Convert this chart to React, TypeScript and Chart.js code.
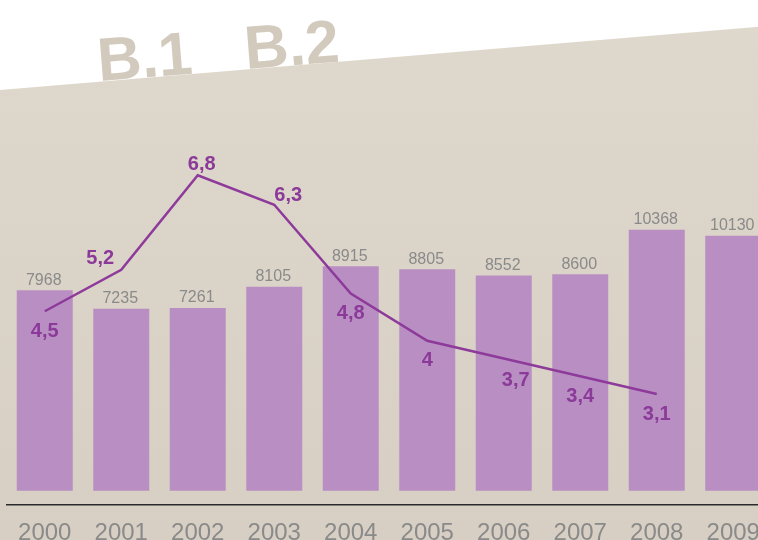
import React, { useEffect, useRef } from "react";
import { Chart, registerables } from "chart.js";

Chart.register(...registerables);

const years = ["2000", "2001", "2002", "2003", "2004", "2005", "2006", "2007", "2008", "2009"];
const barValues = [7968, 7235, 7261, 8105, 8915, 8805, 8552, 8600, 10368, 10130];
const lineValues: (number | null)[] = [4.5, 5.2, 6.8, 6.3, 4.8, 4.0, 3.7, 3.4, 3.1, null];
const headerLabels = ["B.1", "B.2"];

// label placement style per line point
const linePlacement = ["below", "left", "above", "right", "below", "below", "belowRight", "below", "below"];

const FONT = '"Liberation Sans", Arial, Helvetica, sans-serif';
const W = 780;
const H = 562;

const placementOffset: Record<string, [number, number]> = {
  below: [0, 20],
  belowRight: [12, 22],
  above: [4, -11],
  right: [14, -9],
  left: [-21, -11],
};

const bgPlugin = {
  id: "bgPlugin",
  beforeDraw(chart: any) {
    const ctx = chart.ctx as CanvasRenderingContext2D;
    ctx.save();
    const g = ctx.createLinearGradient(0, 0, 0, 540);
    g.addColorStop(0, "#dfd8cd");
    g.addColorStop(1, "#d7cfc3");
    ctx.fillStyle = g;
    ctx.beginPath();
    ctx.moveTo(0, 90);
    ctx.lineTo(W, 90 - 0.0833 * W);
    ctx.lineTo(W, H);
    ctx.lineTo(0, H);
    ctx.closePath();
    ctx.fill();

    ctx.font = `bold 61px ${FONT}`;
    ctx.fillStyle = "#d3cabe";
    ctx.textAlign = "left";
    ctx.textBaseline = "alphabetic";
    const starts: [number, number][] = [
      [99, 81],
      [246, 69],
    ];
    headerLabels.forEach((t, i) => {
      ctx.save();
      ctx.translate(starts[i][0], starts[i][1]);
      ctx.rotate(-0.078);
      ctx.fillText(t, 0, 0);
      ctx.restore();
    });
    ctx.restore();
  },
};

const labelPlugin = {
  id: "labelPlugin",
  afterDatasetsDraw(chart: any) {
    const ctx = chart.ctx as CanvasRenderingContext2D;
    ctx.save();
    // bar values
    const barMeta = chart.getDatasetMeta(1);
    ctx.font = `16px ${FONT}`;
    ctx.fillStyle = "#8a8a8a";
    ctx.textAlign = "center";
    ctx.textBaseline = "alphabetic";
    barMeta.data.forEach((el: any, i: number) => {
      ctx.fillText(String(barValues[i]), el.x - 1, el.y - 5.5);
    });
    // line values
    const lineMeta = chart.getDatasetMeta(0);
    ctx.font = `bold 20px ${FONT}`;
    ctx.fillStyle = "#8b3a99";
    ctx.textBaseline = "middle";
    lineMeta.data.forEach((el: any, i: number) => {
      const v = lineValues[i];
      if (v == null) return;
      const [dx, dy] = placementOffset[linePlacement[i]] || [0, 20];
      ctx.fillText(String(v).replace(".", ","), el.x + dx, el.y + dy);
    });
    ctx.restore();
  },
};

export default function App() {
  const ref = useRef<HTMLCanvasElement | null>(null);
  useEffect(() => {
    if (!ref.current) return;
    Chart.defaults.font.family = FONT;
    const chart = new Chart(ref.current, {
      type: "bar",
      data: {
        labels: years,
        datasets: [
          {
            type: "line",
            label: "line",
            data: lineValues,
            yAxisID: "y1",
            borderColor: "#8d3a9b",
            borderWidth: 2.5,
            pointRadius: 0,
            tension: 0,
            order: 0,
            spanGaps: false,
          } as any,
          {
            type: "bar",
            label: "bar",
            data: barValues,
            yAxisID: "y",
            backgroundColor: "#b98fc3",
            order: 1,
            categoryPercentage: 1,
            barPercentage: 0.732,
          } as any,
        ],
      },
      options: {
        responsive: false,
        animation: false,
        devicePixelRatio: 1,
        layout: { padding: { left: 6.5, right: 8.5, top: 0, bottom: 0 } },
        plugins: { legend: { display: false }, tooltip: { enabled: false } },
        scales: {
          x: {
            grid: { display: false, drawTicks: false },
            border: { display: true, color: "#2a2a2a", width: 1.5 },
            ticks: {
              color: "#8a8a8a",
              font: { family: FONT, size: 24 },
              padding: 14,
              autoSkip: false,
              maxRotation: 0,
            },
          },
          y: { display: false, min: -577.7, max: 19502 },
          y1: { display: false, min: 1.2203, max: 9.763, position: "right" },
        },
      } as any,
      plugins: [bgPlugin, labelPlugin],
    });
    return () => chart.destroy();
  }, []);
  return (
    <div
      style={{
        position: "fixed",
        left: 0,
        top: 0,
        width: 758,
        height: 540,
        overflow: "hidden",
        background: "#ffffff",
      }}
    >
      <canvas
        ref={ref}
        width={W}
        height={H}
        style={{ position: "absolute", left: 0, top: 0, width: W, height: H, display: "block" }}
      />
    </div>
  );
}
